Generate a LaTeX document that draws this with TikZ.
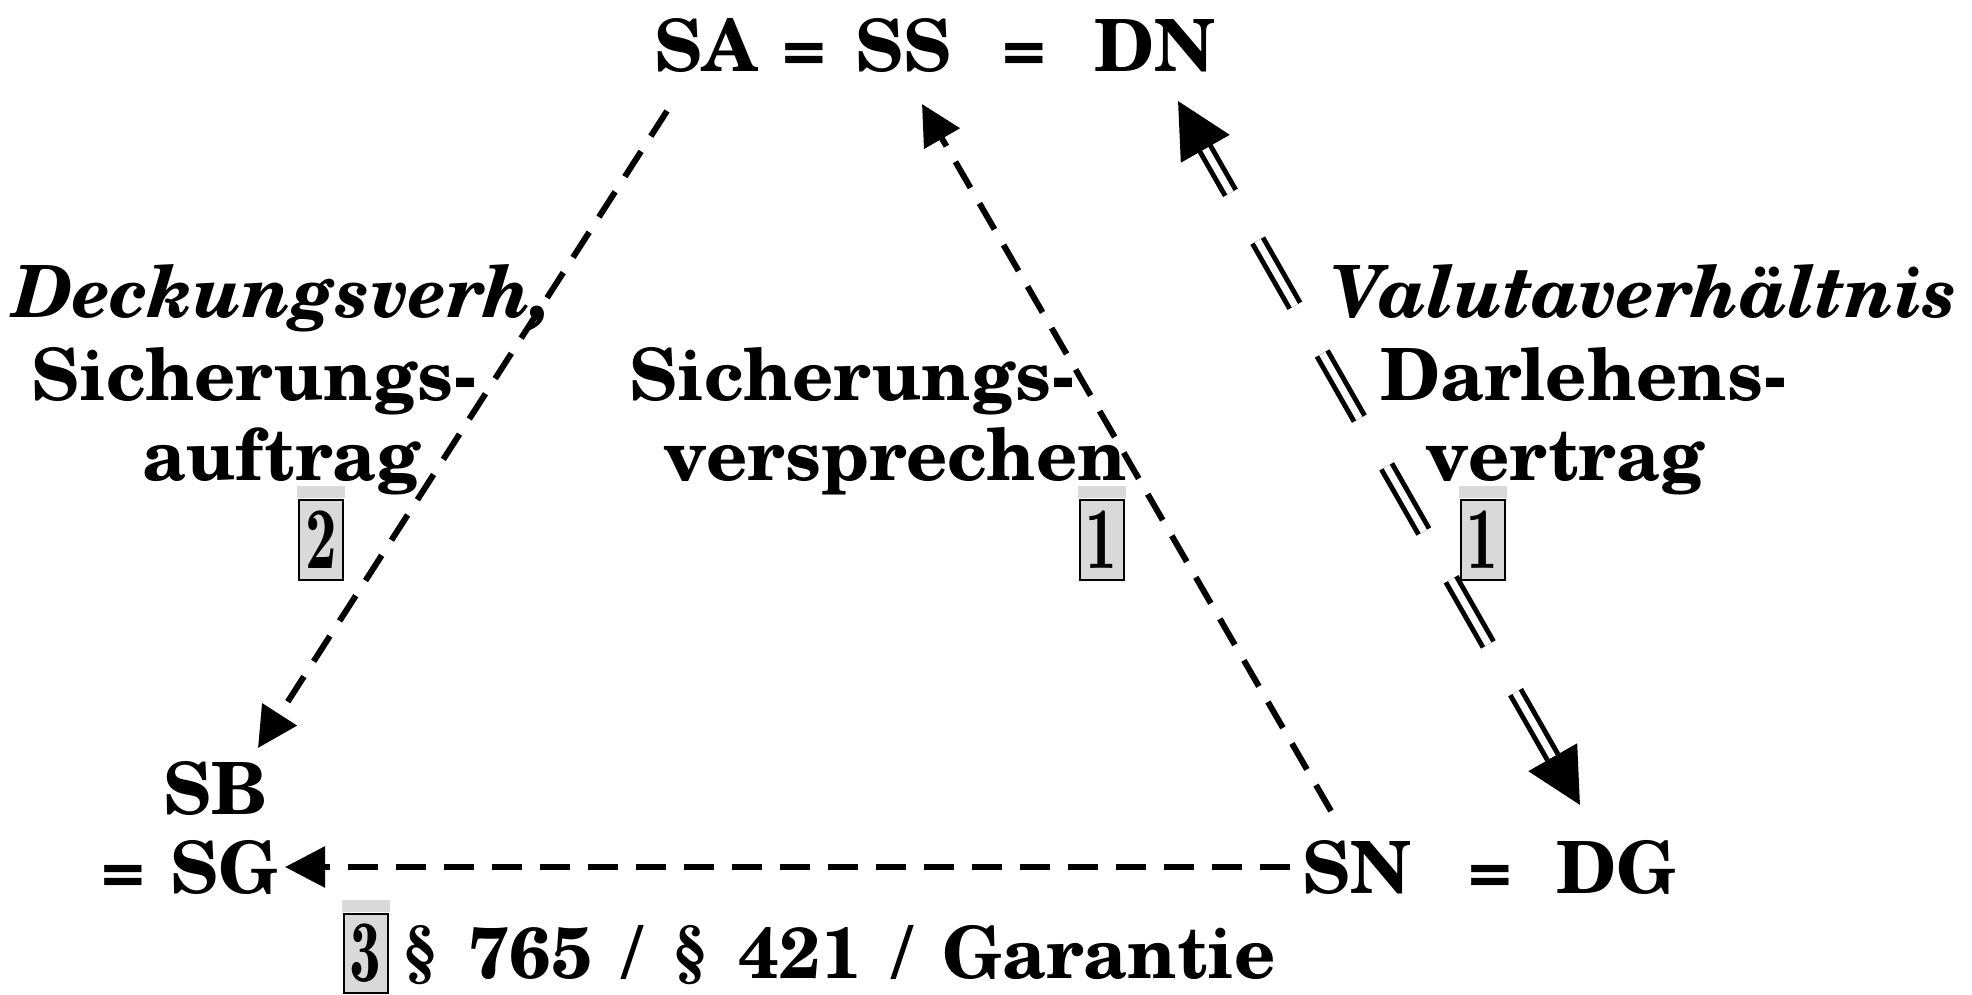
\documentclass[tikz,border=0pt]{standalone}
\usepackage{fontspec}
\setmainfont{texgyreschola}[Extension=.otf, UprightFont=*-regular, BoldFont=*-bold, ItalicFont=*-italic, BoldItalicFont=*-bolditalic]
\usetikzlibrary{arrows.meta}
\definecolor{boxgray}{RGB}{217,217,217}
\newcommand{\dig}[1]{\scalebox{0.72}[1]{\fontfamily{lmr}\fontsize{44}{44}\bfseries\selectfont #1}}
\begin{document}
\begin{tikzpicture}[x=0.5pt,y=-0.5pt,
  txt/.style={inner sep=0pt, anchor=base west, font=\fontsize{36}{40}\bfseries\selectfont},
  itxt/.style={txt, font=\fontsize{36}{40}\bfseries\itshape\selectfont},
  numbox/.style={draw, line width=1pt, fill=boxgray, minimum width=22pt, minimum height=40pt, inner sep=0pt},
  dsh/.style={line width=3pt, dash pattern=on 15pt off 9pt, -{Triangle[length=20pt,width=20pt]}},
  dbl/.style={double, line width=2.5pt, double distance=3.5pt, dash pattern=on 37.5pt off 27.5pt, dash phase=11.5pt,
    {Triangle[length=27.5pt,width=27.5pt]}-{Triangle[length=27.5pt,width=27.5pt]}}
]
\useasboundingbox (0,0) rectangle (1972,995);
% top row
\node[txt] (sa) at (654,72) {SA};
\node[txt] (eqa) at (782,72) {=};
\node[txt] (ss) at (855,72) {SS};
\node[txt] (eqb) at (1002,72) {=};
\node[txt] (dn) at (1094,72) {DN};
% bottom left
\node[txt] (sb) at (163,814) {SB};
\node[txt] (eqd) at (101,893) {=};
\node[txt] (sg) at (170,893) {SG};
% bottom right
\node[txt] (sn) at (1302,893) {SN};
\node[txt] (eqc) at (1468,893) {=};
\node[txt] (dg) at (1556,893) {DG};
% labels left
\node[itxt] (l1) at (13,317) {Deckungsverh,};
\node[txt] (l2) at (31,400) {Sicherungs-};
\node[txt] (l3) at (142,480) {auftrag};
% labels middle
\node[txt] (m1) at (629,400) {Sicherungs-};
\node[txt] (m2) at (663,480) {versprechen};
% labels right
\node[itxt] (r1) at (1331,317) {Valutaverhältnis};
\node[txt] (r2) at (1380,400) {Darlehens-};
\node[txt] (r3) at (1425,480) {vertrag};
% bottom label
\node[txt] (bl) at (402,978) {\spaceskip=15pt\relax § 765 / § 421 / Garantie};
% number boxes
\node[numbox] (b2) at (321,540) {\dig{2}};
\node[numbox] (b1m) at (1101.5,540) {\dig{1}};
\node[numbox] (b1r) at (1482.5,540) {\dig{1}};
\node[numbox, minimum height=39.5pt] (b3) at (365.5,953.5) {\dig{3}};
\foreach \b in {b2,b1m,b1r,b3}{
  \fill[boxgray] ([xshift=-0.5pt,yshift=0.5pt]\b.north west) rectangle ([xshift=0.5pt,yshift=6.5pt]\b.north east);
}
% connectors
\coordinate (a1s) at (667,111);
\coordinate (a1e) at (258,748);
\coordinate (a2s) at (1331,811);
\coordinate (a2e) at (922,104);
\coordinate (a3s) at (1178,101);
\coordinate (a3e) at (1580,805);
\coordinate (a4s) at (1290,867);
\coordinate (a4e) at (285,867);
\draw[dsh] (a1s) -- (a1e);
\draw[dsh] (a2s) -- (a2e);
\draw[dbl] (a3s) -- (a3e);
\draw[dsh] (a4s) -- (a4e);
\end{tikzpicture}
\end{document}
